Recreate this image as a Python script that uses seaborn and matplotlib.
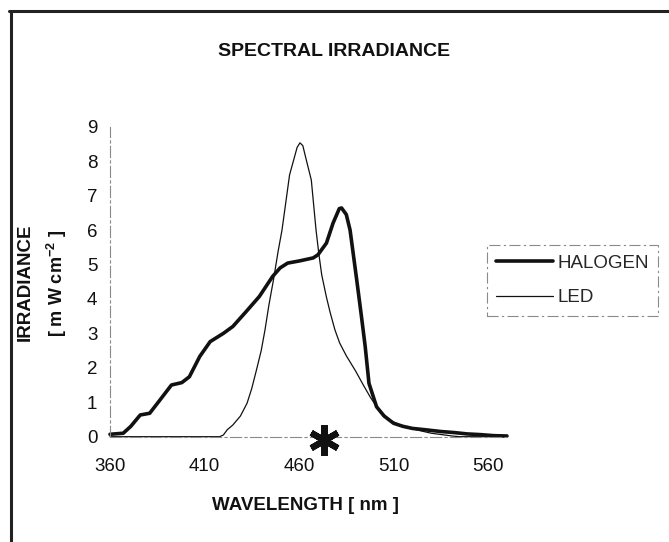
import numpy as np
import pandas as pd
import matplotlib
matplotlib.use("Agg")
import matplotlib.pyplot as plt
from matplotlib.lines import Line2D
import seaborn as sns

# ---------------------------------------------------------------
# data
# ---------------------------------------------------------------
halogen_nm = [360, 367, 371, 376, 381, 386.5, 392.5, 398, 402, 407.5, 413, 420,
              425, 432, 439, 446, 450, 454, 460, 467.5, 470, 474.5, 478, 481.3,
              482.5, 485, 487, 490.5, 493, 495, 497, 501, 505, 510, 515, 520,
              527, 535, 542, 549, 556, 563, 570]
halogen_mw = [0.07, 0.1, 0.3, 0.63, 0.68, 1.07, 1.5, 1.57, 1.74, 2.33, 2.76, 3.0,
              3.2, 3.63, 4.07, 4.65, 4.9, 5.04, 5.1, 5.19, 5.28, 5.62, 6.2, 6.62,
              6.64, 6.45, 6.0, 4.56, 3.5, 2.62, 1.55, 0.87, 0.6, 0.39, 0.3, 0.24,
              0.2, 0.15, 0.12, 0.08, 0.06, 0.03, 0.02]

led_nm = [360, 418, 420, 422, 425, 429, 432.5, 435, 437.5, 440, 442, 444, 446.5,
          449, 451, 453, 455, 457, 459, 460.5, 462, 464, 466.5, 469, 470.5, 472,
          474.5, 476.5, 479, 481.5, 485, 490, 494, 498, 502, 508, 515, 522, 530,
          537, 541, 545, 570]
led_mw = [0, 0, 0.05, 0.2, 0.34, 0.6, 0.97, 1.4, 1.94, 2.5, 3.1, 3.8, 4.56,
          5.4, 6.0, 6.8, 7.6, 8.0, 8.4, 8.53, 8.45, 8.0, 7.45, 6.0, 5.3, 4.7,
          4.05, 3.6, 3.1, 2.72, 2.35, 1.9, 1.5, 1.12, 0.8, 0.48, 0.3, 0.2, 0.1,
          0.05, 0.02, 0, 0]

x_ticks = [360, 410, 460, 510, 560]
y_ticks = list(range(0, 10))
star_nm = 473   # asterisk on the axis

# ---------------------------------------------------------------
# figure
# ---------------------------------------------------------------
sns.set_theme(style="white")
plt.rcParams["font.family"] = ["Liberation Sans", "DejaVu Sans"]
plt.rcParams["mathtext.default"] = "regular"

fig = plt.figure(figsize=(6.69, 5.42), dpi=100)
ax = fig.add_axes([0.1644, 0.1943, 0.5934, 0.572])

ink = "#111111"
sns.lineplot(x=halogen_nm, y=halogen_mw, ax=ax, color=ink, lw=2.6,
             label="HALOGEN", sort=False, clip_on=False)
sns.lineplot(x=led_nm, y=led_mw, ax=ax, color=ink, lw=0.9,
             label="LED", sort=False, clip_on=False)

ax.plot([star_nm], [-0.1], marker=(6, 2, 0), ms=22, mew=4.5, color=ink,
        clip_on=False, zorder=5)

ax.set_xlim(360, 570)
ax.set_ylim(0, 9)
ax.set_xticks(x_ticks)
ax.set_yticks(y_ticks)
ax.tick_params(axis="both", direction="inout", length=6, width=0.8,
               color="#888888", labelsize=13.5, labelcolor=ink)
ax.tick_params(axis="x", pad=12)
ax.tick_params(axis="y", pad=6)
ax.set_xlabel("")
ax.set_ylabel("")

for side in ["top", "right"]:
    ax.spines[side].set_visible(False)
for side in ["left", "bottom"]:
    ax.spines[side].set_color("#8a8a8a")
    ax.spines[side].set_linewidth(0.8)
    ax.spines[side].set_linestyle((0, (10, 3, 2, 3)))

# legend with dash-dot frame
leg = ax.legend(loc="upper left", bbox_to_anchor=(487 / 669, 1 - 245 / 542),
                bbox_transform=fig.transFigure, borderaxespad=0,
                fontsize=13.5, handlelength=3.0, handletextpad=0.25,
                labelspacing=0.95, borderpad=0.5, fancybox=False, framealpha=1)
leg.get_frame().set_edgecolor("#8a8a8a")
leg.get_frame().set_linestyle((0, (10, 3, 2, 3)))
leg.get_frame().set_linewidth(0.8)

# texts
fig.text(334 / 669, 1 - 52 / 542, "SPECTRAL IRRADIANCE", ha="center",
         va="center", fontsize=14, fontweight="bold", color=ink)
fig.text(305 / 669, 1 - 505 / 542, "WAVELENGTH [ nm ]", ha="center",
         va="center", fontsize=13.5, fontweight="bold", color=ink)
fig.text(25 / 669, 1 - 282 / 542, "IRRADIANCE", ha="center", va="center",
         rotation=90, fontsize=13.5, fontweight="bold", color=ink)
fig.text(57 / 669, 1 - 283 / 542, "[ m W cm$^{-2}$ ]", ha="center",
         va="center", rotation=90, fontsize=13, fontweight="bold", color=ink)

# scan frame: top and left edges only
fig.add_artist(Line2D([9 / 669, 1], [1 - 11 / 542, 1 - 11 / 542],
                      transform=fig.transFigure, color="#222222", lw=2.2))
fig.add_artist(Line2D([10.5 / 669, 10.5 / 669], [0, 1 - 11 / 542],
                      transform=fig.transFigure, color="#222222", lw=2.2))

fig.savefig("out.png", dpi=100)
plt.close(fig)
